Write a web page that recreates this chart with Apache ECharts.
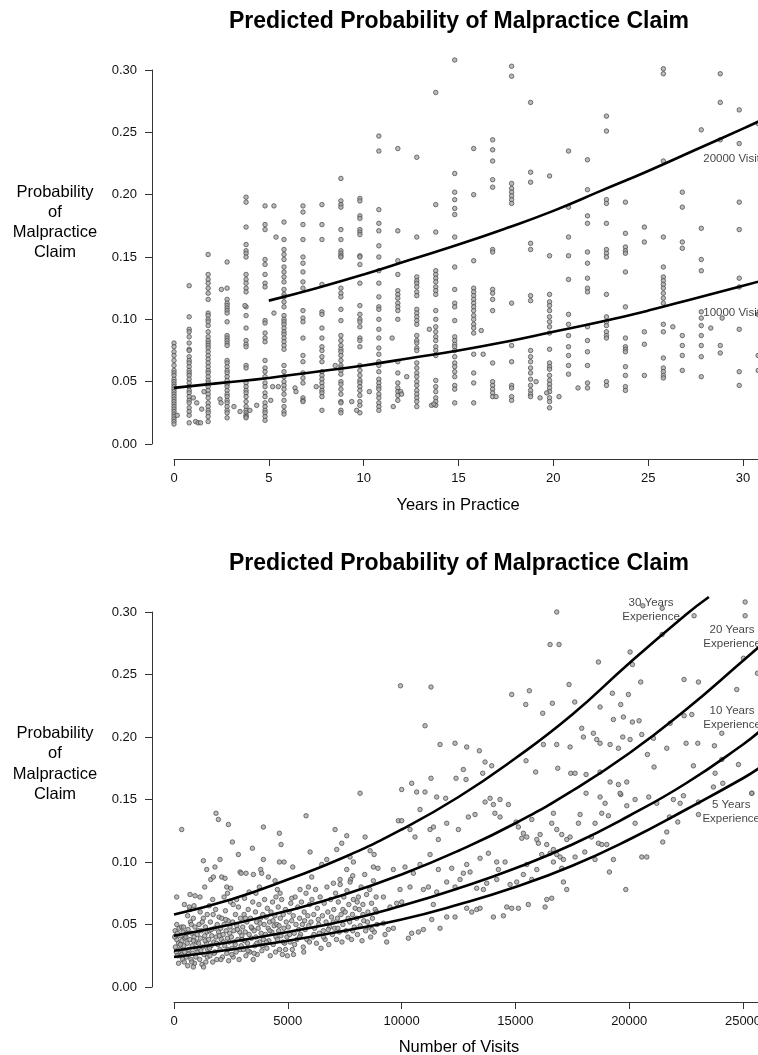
<!DOCTYPE html>
<html>
<head>
<meta charset="utf-8">
<script src="https://cdn.jsdelivr.net/npm/echarts@6/dist/echarts.min.js"></script>
<style>
  html, body { margin: 0; padding: 0; background: #fff; }
  #main { width: 758px; height: 1055px; }
</style>
</head>
<body>
<div id="main"></div>
<script>
var titleText = 'Predicted Probability of Malpractice Claim';
var yTitle = 'Probability\nof\nMalpractice\nClaim';
var yearTicks = [0, 5, 10, 15, 20, 25, 30];
var visitTicks = [0, 5000, 10000, 15000, 20000, 25000];

// --- top chart: years in practice, points sit in columns
var yearCols = [0, 0.8, 1.8, 2.8, 3.8, 4.8, 5.8, 6.8, 7.8, 8.8, 9.8, 10.8, 11.8, 12.8, 13.8, 14.8,
    15.8, 16.8, 17.8, 18.8, 19.8, 20.8, 21.8, 22.8, 23.8, 24.8, 25.8, 26.8, 27.8, 28.8, 29.8, 30.8];
var yearProbs = [
    [.081,.078,.074,.071,.067,.063,.059,.057,.055,.052,.050,.048,.046,.044,.042,.040,.038,.036,.034,.032,.030,.028,.026,.024,.022,.020,.018,.016],
    [.127,.102,.092,.090,.086,.081,.076,.075,.070,.067,.065,.062,.059,.057,.055,.052,.049,.046,.043,.041,.038,.035,.033,.029,.026,.023,.017],
    [.152,.136,.132,.129,.125,.121,.116,.105,.103,.100,.098,.095,.090,.086,.083,.081,.079,.077,.074,.071,.068,.065,.062,.059,.057,.054,.051,.049,.046,.043,.040,.037,.033,.030,.027,.025,.022,.018],
    [.146,.125,.116,.113,.111,.109,.107,.105,.098,.087,.085,.083,.081,.079,.067,.065,.062,.059,.057,.054,.051,.048,.046,.043,.040,.038,.035,.033,.030,.027,.025,.021],
    [.198,.194,.174,.160,.155,.153,.150,.136,.132,.129,.125,.122,.110,.103,.093,.083,.080,.078,.063,.061,.049,.046,.043,.041,.038,.034,.030,.027,.025,.023,.022,.021],
    [.191,.176,.172,.148,.144,.136,.129,.126,.099,.097,.089,.085,.082,.067,.061,.058,.054,.049,.046,.041,.038,.033,.030,.027,.025,.022,.019],
    [.178,.164,.156,.152,.148,.142,.138,.134,.130,.124,.120,.118,.114,.110,.103,.100,.098,.096,.093,.090,.088,.085,.082,.079,.076,.063,.058,.054,.050,.047,.044,.040,.035,.030,.026,.024],
    [.191,.186,.176,.164,.150,.145,.138,.130,.125,.107,.101,.098,.085,.071,.066,.057,.053,.049,.037,.035,.034],
    [.192,.176,.164,.128,.106,.104,.093,.085,.078,.075,.070,.066,.058,.055,.052,.049,.046,.043,.041,.038,.027],
    [.213,.195,.192,.190,.172,.164,.155,.153,.151,.150,.125,.121,.118,.108,.099,.087,.083,.079,.076,.074,.071,.067,.063,.061,.059,.056,.050,.048,.044,.040,.034,.033,.027,.025],
    [.197,.195,.183,.181,.172,.170,.168,.151,.150,.144,.129,.111,.104,.100,.098,.094,.085,.083,.078,.063,.059,.055,.051,.049,.046,.043,.039,.034,.031,.025],
    [.247,.235,.188,.177,.171,.159,.150,.139,.129,.118,.110,.108,.100,.092,.085,.077,.072,.066,.063,.058,.052,.049,.046,.044,.040,.037,.033,.030,.027],
    [.237,.171,.147,.136,.123,.120,.117,.113,.110,.107,.100,.066,.057,.049,.045,.042,.039,.035],
    [.230,.166,.134,.131,.129,.126,.122,.119,.108,.105,.102,.099,.096,.087,.083,.081,.077,.075,.065,.061,.057,.054,.050,.047,.043,.040,.037,.034,.030],
    [.282,.192,.170,.139,.136,.133,.130,.126,.123,.120,.107,.100,.094,.090,.086,.083,.078,.075,.071,.051,.046,.042,.037,.034,.031],
    [.308,.217,.202,.196,.189,.184,.166,.142,.124,.113,.110,.099,.086,.083,.080,.078,.075,.070,.065,.062,.058,.054,.047,.044,.033],
    [.237,.200,.147,.125,.122,.119,.116,.113,.110,.107,.103,.100,.096,.093,.089,.072,.057,.049,.033],
    [.244,.236,.227,.212,.206,.156,.154,.124,.121,.116,.107,.065,.050,.047,.044,.041,.038],
    [.303,.295,.209,.205,.202,.199,.196,.193,.113,.079,.066,.047,.045,.038,.035],
    [.274,.218,.210,.161,.156,.119,.115,.075,.070,.066,.061,.057,.052,.047,.043,.040,.038],
    [.215,.151,.120,.114,.111,.107,.102,.098,.094,.089,.076,.065,.062,.060,.055,.051,.048,.045,.042,.037,.034,.029],
    [.235,.190,.166,.151,.132,.104,.096,.087,.078,.071,.063,.056],
    [.228,.204,.183,.177,.154,.145,.133,.125,.122,.094,.083,.074,.063,.049,.045],
    [.263,.251,.196,.193,.177,.156,.153,.150,.120,.102,.098,.095,.090,.087,.085,.050,.047],
    [.194,.169,.158,.155,.153,.138,.110,.085,.078,.076,.074,.062,.055,.046,.043],
    [.174,.162,.090,.080,.055],
    [.301,.297,.227,.166,.142,.134,.131,.128,.125,.121,.117,.113,.096,.090,.069,.061,.058,.055,.053],
    [.202,.190,.162,.157,.087,.079,.071,.059],
    [.252,.173,.148,.139,.106,.101,.095,.087,.079,.070,.054],
    [.297,.274,.244,.079,.073],
    [.268,.241,.194,.172,.133,.126,.092,.058,.047],
    [.257,.104,.071,.059]
];
var yearExtra = [[0.17,.023],[1.02,.037],[1.2,.033],[1.14,.018],[1.27,.017],[1.4,.017],[1.46,.028],[1.58,.042],
    [2.43,.036],[2.48,.033],[2.5,.124],[3.16,.030],[3.48,.026],[3.74,.111],[4.0,.027],[4.36,.031],[5.1,.035],
    [5.2,.046],[5.5,.046],[5.27,.105],[5.27,.191],[5.38,.166],[6.38,.045],[6.43,.042],[7.5,.046],[8.5,.063],
    [9.37,.034],[9.63,.027],[10.3,.042],[11.5,.085],[11.56,.030],[11.95,.042],[12.0,.040],[12.27,.054],
    [13.46,.092],[13.58,.031],[13.7,.032],[16.2,.091],[16.3,.072],[16.98,.038],[19.09,.050],[19.3,.037],
    [19.65,.041],[20.3,.038],[21.3,.045],[26.3,.094],[28.3,.093],[28.9,.101]];

var years10k = [0, 2.5, 5, 7.5, 10, 12.5, 15, 17.5, 20, 22.5, 25, 27.5, 30, 31];
var prob10k = [.045, .049, .053, .058, .063, .069, .075, .082, .090, .098, .107, .117, .127, .131];
var years20k = [5, 7.5, 10, 12.5, 15, 17.5, 20, 22.5, 25, 27.5, 30, 31];
var prob20k = [.115, .125, .136, .148, .160, .173, .187, .203, .219, .236, .253, .260];

// --- bottom chart: number of visits
var visitPts = [
    [50,.045],[80,.041],[120,.038],[150,.043],[200,.035],[220,.047],[260,.030],[300,.041],[320,.026],[350,.037],
    [380,.022],[400,.044],[430,.033],[450,.020],[470,.028],[480,.039],[120,.050],[60,.032],[30,.040],[250,.025],
    [100,.028],[200,.019],[330,.048],[118,.072],[338,.126],[455,.066],[150,.025],[280,.034],[420,.048],
    [520,.040],[550,.024],[580,.035],[600,.017],[620,.046],[650,.030],[700,.038],[720,.052],[750,.022],[780,.043],
    [800,.033],[820,.027],[850,.055],[880,.040],[900,.019],[920,.048],[950,.031],[980,.036],[600,.057],[700,.062],
    [780,.020],[850,.016],[675,.064],[705,.074],[880,.065],[924,.073],[560,.043],[640,.026],[760,.050],[860,.037],[960,.024],
    [1020,.042],[1050,.028],[1080,.035],[1100,.050],[1130,.022],[1160,.039],[1200,.045],[1230,.018],[1260,.032],
    [1290,.055],[1320,.026],[1350,.041],[1380,.048],[1400,.020],[1430,.035],[1460,.058],[1480,.030],[1150,.060],
    [1300,.016],[1450,.044],[1143,.072],[1290,.101],[1437,.094],[1350,.080],[1070,.045],[1180,.029],[1240,.052],
    [1370,.037],[1470,.024],
    [1520,.038],[1550,.045],[1580,.025],[1600,.052],[1630,.033],[1660,.041],[1700,.020],[1720,.058],[1750,.036],
    [1780,.047],[1800,.028],[1830,.062],[1850,.040],[1880,.022],[1900,.050],[1930,.034],[1960,.044],[1980,.056],
    [1550,.065],[1700,.070],[1613,.086],[1730,.088],[1800,.096],[1846,.139],[1950,.134],[2023,.102],[1560,.031],
    [1640,.046],[1770,.027],[1870,.035],[1990,.041],
    [2020,.030],[2050,.047],[2080,.038],[2100,.055],[2130,.024],[2160,.042],[2200,.050],[2230,.033],[2260,.061],
    [2290,.045],[2320,.027],[2350,.039],[2380,.053],[2400,.021],[2430,.036],[2460,.048],[2480,.068],[2200,.072],
    [2350,.075],[2096,.088],[2242,.087],[2316,.080],[2390,.130],[2490,.079],[2060,.022],[2170,.036],[2270,.054],
    [2370,.030],[2450,.043],
    [2520,.040],[2550,.031],[2580,.052],[2600,.024],[2630,.045],[2660,.036],[2700,.058],[2730,.028],[2760,.049],
    [2800,.038],[2830,.064],[2860,.022],[2890,.044],[2920,.055],[2950,.033],[2980,.041],[2600,.066],[2750,.070],
    [2565,.116],[2828,.106],[2902,.092],[2950,.091],[2540,.026],[2690,.034],[2790,.046],[2910,.030],
    [3020,.048],[3050,.030],[3080,.058],[3100,.037],[3130,.044],[3160,.025],[3200,.052],[3230,.035],[3260,.062],
    [3300,.042],[3330,.028],[3360,.055],[3400,.039],[3430,.047],[3460,.068],[3480,.022],[3100,.071],[3300,.076],
    [3165,.091],[3444,.111],[3488,.090],[3000,.038],[3140,.055],[3250,.029],[3390,.048],
    [3520,.045],[3550,.033],[3580,.060],[3600,.040],[3630,.052],[3660,.026],[3700,.047],[3730,.066],[3760,.036],
    [3800,.055],[3830,.043],[3860,.029],[3900,.058],[3930,.038],[3960,.050],[3980,.070],[3600,.075],[3750,.080],
    [3810,.094],[3854,.091],[3928,.128],[3928,.102],[3520,.027],[3640,.035],[3780,.051],[3880,.033],
    [4020,.042],[4050,.056],[4080,.031],[4100,.063],[4140,.047],[4170,.037],[4200,.052],[4230,.025],[4260,.060],
    [4300,.044],[4330,.068],[4360,.034],[4400,.049],[4430,.057],[4460,.028],[4480,.072],[4147,.088],[4440,.085],
    [4060,.036],[4210,.045],[4350,.053],[4480,.040],
    [4520,.050],[4550,.038],[4580,.064],[4600,.045],[4640,.030],[4670,.055],[4700,.041],[4730,.070],[4760,.026],
    [4800,.058],[4830,.047],[4860,.035],[4900,.062],[4930,.052],[4960,.040],[4980,.025],[4543,.078],[4630,.123],
    [4704,.114],[4630,.100],[4835,.100],[4660,.075],[4620,.049],[4790,.036],[4900,.030],
    [5020,.048],[5060,.060],[5100,.036],[5130,.067],[5170,.053],[5200,.030],[5240,.057],[5280,.043],[5320,.072],
    [5360,.050],[5400,.038],[5440,.064],[5480,.046],[5250,.026],[5173,.071],[5217,.096],[5080,.042],[5300,.034],
    [5520,.055],[5560,.042],[5600,.068],[5640,.050],[5680,.032],[5720,.060],[5760,.046],[5800,.075],[5840,.038],
    [5880,.057],[5920,.049],[5960,.066],[5700,.028],[5539,.078],[5803,.137],[5906,.080],[5979,.108],[5520,.040],
    [5740,.053],[5950,.036],
    [6020,.052],[6060,.070],[6100,.040],[6140,.058],[6180,.047],[6220,.078],[6260,.035],[6300,.063],[6340,.054],
    [6380,.043],[6420,.072],[6460,.031],[6052,.088],[6491,.098],[6150,.042],[6360,.050],
    [6520,.057],[6560,.045],[6600,.067],[6640,.038],[6680,.052],[6720,.080],[6760,.060],[6800,.034],[6840,.048],
    [6880,.070],[6920,.056],[6960,.042],[6711,.102],[6570,.040],[6780,.046],
    [7020,.062],[7060,.047],[7100,.075],[7140,.038],[7180,.055],[7220,.068],[7260,.044],[7300,.082],[7340,.058],
    [7380,.036],[7420,.050],[7460,.072],[7004,.083],[7077,.126],[7150,.110],[7297,.086],[7370,.115],[7000,.052],
    [7200,.047],[7420,.062],
    [7520,.060],[7560,.045],[7600,.077],[7640,.040],[7680,.066],[7720,.052],[7760,.086],[7800,.038],[7840,.058],
    [7880,.070],[7920,.048],[7960,.063],[7590,.121],[7590,.094],[7736,.104],[7736,.084],[7854,.089],[7883,.100],
    [7650,.055],[7850,.045],
    [8020,.055],[8060,.042],[8100,.072],[8140,.062],[8180,.049],[8220,.080],[8260,.037],[8300,.066],[8340,.053],
    [8380,.090],[8420,.045],[8460,.074],[8176,.155],[8396,.120],[8050,.068],[8300,.058],
    [8520,.060],[8560,.048],[8600,.078],[8640,.040],[8680,.067],[8720,.055],[8760,.085],[8800,.044],[8840,.062],
    [8880,.072],[8920,.050],[8960,.095],[8616,.109],[8762,.096],[8792,.106],[8500,.052],[8700,.046],[8900,.060],
    [9200,.051],[9272,.042],[9418,.046],[9638,.047],[9345,.036],[10297,.039],[10443,.043],[10737,.044],[10957,.046],
    [11323,.054],[11689,.047],[11982,.056],[12348,.056],[11396,.066],[12861,.063],[13081,.060],[13300,.062],
    [13447,.063],[14033,.056],[14473,.057],[14619,.064],[14839,.063],[15130,.063],[15570,.066],[16304,.064],
    [16377,.070],[16597,.071],
    [9931,.078],[10370,.080],[10957,.078],[11177,.080],[11543,.076],[11982,.084],[12348,.080],[12568,.086],
    [13008,.092],[12714,.091],[13300,.079],[13594,.078],[13740,.083],[14180,.086],[14253,.094],[14546,.100],
    [14766,.082],[15059,.084],[15350,.090],[15500,.098],[15720,.086],[15940,.094],[16157,.106],[16670,.100],
    [17036,.095],[17110,.084],[17256,.078],[9638,.094],[10150,.096],[10517,.091],[10810,.098],[11250,.106],
    [11615,.094],[12202,.095],[12861,.098],[13447,.103],[13814,.107],[14180,.100],[18500,.102],[17622,.104],
    [9200,.072],[9491,.064],[9784,.067],[10004,.068],
    [9858,.133],[10004,.133],[10810,.142],[10370,.126],[10590,.120],[11250,.126],[11400,.128],[11615,.118],
    [11982,.131],[12495,.126],[12934,.136],[13227,.138],[13887,.151],[13667,.148],[14033,.146],[14100,.139],
    [14326,.150],[14326,.136],[14692,.146],[15029,.132],[15130,.128],[15350,.123],[15280,.119],[15500,.120],
    [15940,.118],[16085,.122],[16010,.115],[16377,.114],[16524,.107],[16670,.110],[16817,.106],[16963,.104],
    [17110,.102],[17256,.118],[17403,.120],[17036,.122],[16817,.126],[16597,.131],[16670,.139],[15720,.134],
    [17842,.138],[17769,.131],[18050,.108],[18342,.120],[18500,.131],[18648,.115],[18794,.114],[19014,.114],
    [19307,.102],[19130,.092],[18794,.139],[18721,.152],[18941,.147],[19087,.137],[19630,.154],[19893,.145],
    [20259,.150],[20259,.131],[20552,.104],[20772,.104],[20860,.152],[21211,.147],[21475,.116],[21650,.124],
    [21768,.136],[21943,.150],[22134,.132],[22237,.147],[22384,.153],[23043,.148],[23043,.138],[25387,.155],
    [19849,.078],[10662,.156],[11029,.156],[11542,.152],[11937,.151],[18105,.155],
    [16816,.300],[16523,.274],[16918,.274],[18647,.260],[20039,.268],[20141,.258],[20507,.244],[21445,.282],
    [22851,.297],[25093,.308],[25093,.297],[25020,.263],[25635,.251],[24726,.238],[22412,.246],[23042,.244],
    [11292,.240],[9950,.241],[14838,.234],[15614,.237],[17357,.242],[16625,.227],[17607,.228],[18720,.224],
    [19262,.235],[19628,.226],[19965,.234],[19745,.216],[20141,.212],[20434,.213],[11029,.209],[11688,.194],
    [12347,.195],[12860,.192],[13417,.189],[13666,.180],[13959,.177],[13563,.171],[12713,.174],[12831,.166],
    [15467,.181],[16230,.194],[16816,.194],[15890,.172],[16860,.175],[17431,.171],[17621,.171],[18105,.170],
    [17914,.207],[18427,.203],[18720,.195],[19160,.194],[19526,.191],[19716,.200],[20039,.198],[20800,.186],
    [21093,.176],[21650,.191],[22500,.195],[23013,.195],[22822,.177],[23774,.171],[24111,.163],[24800,.178],
    [23700,.160],[25385,.155],[19599,.155],[19892,.164],[19526,.162],[19160,.164],[18720,.172],[17402,.192],
    [10003,.158],[10443,.163],[11292,.167],[12391,.167],[20600,.305],[21450,.303],[16200,.219],[19307,.214],
    [21797,.211],[22413,.217],[22750,.218],[24068,.203],[21065,.199],[20552,.202],[23745,.193],[24068,.182],
    [17988,.200],[18574,.198],[15454,.226]
];

var visits5 = [0, 2500, 5000, 7500, 10000, 12500, 15000, 17500, 20000, 22500, 25000, 25700];
var exp5 = [.024, .030, .037, .045, .054, .066, .080, .097, .118, .142, .167, .175];
var exp10 = [.029, .036, .044, .053, .065, .079, .095, .114, .137, .163, .194, .204];
var exp20 = [.041, .050, .061, .074, .090, .109, .131, .157, .187, .222, .261, .272];
var visits30 = [0, 2500, 5000, 7500, 10000, 12500, 15000, 17500, 20000, 22500, 23500];
var exp30 = [.058, .070, .086, .104, .126, .152, .183, .218, .259, .298, .312];

var fontFam = '"Liberation Sans", Arial, sans-serif';

function columnPoints(xs, ys) {
    var out = [];
    xs.forEach(function (x, i) {
        ys[i].forEach(function (y) { out.push([x, y]); });
    });
    return out;
}

function zip(xs, ys) {
    return xs.map(function (x, i) { return [x, ys[i]]; });
}

function xAxisFor(grid, max, ticks) {
    return {
        type: 'value', gridIndex: grid, min: 0, max: max, interval: ticks[1] - ticks[0],
        position: 'bottom', offset: 15,
        axisLine: { show: true, onZero: false, lineStyle: { color: '#333', width: 1 } },
        axisTick: { show: true, length: 7, customValues: ticks, lineStyle: { color: '#333' } },
        axisLabel: {
            customValues: ticks, color: '#111', fontSize: 13, fontFamily: fontFam, margin: 13,
            formatter: function (v) { return String(v); }
        },
        splitLine: { show: false }
    };
}

function yAxisFor(grid) {
    return {
        type: 'value', gridIndex: grid, min: 0, max: 0.3, interval: 0.05,
        position: 'left', offset: 22,
        axisLine: { show: true, onZero: false, lineStyle: { color: '#333', width: 1 } },
        axisTick: { show: true, length: 7, lineStyle: { color: '#333' } },
        axisLabel: {
            color: '#111', fontSize: 13, fontFamily: fontFam, margin: 15,
            formatter: function (v) { return v.toFixed(2); }
        },
        splitLine: { show: false }
    };
}

function dots(grid, data) {
    return {
        type: 'scatter', xAxisIndex: grid, yAxisIndex: grid, data: data, clip: false,
        symbol: 'circle', symbolSize: 4.5, silent: true,
        itemStyle: { color: '#aaa', borderColor: '#444', borderWidth: 0.9 }, z: 2
    };
}

function curve(grid, xs, ys) {
    return {
        type: 'line', xAxisIndex: grid, yAxisIndex: grid, data: zip(xs, ys), clip: false,
        smooth: true, symbol: 'none', silent: true,
        lineStyle: { color: '#000', width: 2.6 }, z: 3
    };
}

function notes(grid, items, pos) {
    return {
        type: 'scatter', xAxisIndex: grid, yAxisIndex: grid, clip: false, symbolSize: 0, silent: true,
        data: items,
        label: {
            show: true, position: pos, distance: 1, formatter: '{b}',
            color: '#111', fontSize: 11.5, fontFamily: fontFam, lineHeight: 14, align: pos === 'inside' ? 'center' : 'left'
        },
        z: 4
    };
}

function text(x, y, str, size, weight, lh) {
    return {
        type: 'text', x: x, y: y, silent: true,
        style: {
            text: str, fontSize: size, fontWeight: weight, fontFamily: fontFam, lineHeight: lh || size,
            fill: '#000', align: 'center', verticalAlign: 'middle'
        }
    };
}

var option = {
    animation: false,
    backgroundColor: '#fff',
    grid: [
        { left: 174, right: 0, top: 70, height: 374, outerBoundsMode: 'none' },
        { left: 174, right: 0, top: 612, height: 375, outerBoundsMode: 'none' }
    ],
    xAxis: [xAxisFor(0, 30.79, yearTicks), xAxisFor(1, 25659, visitTicks)],
    yAxis: [yAxisFor(0), yAxisFor(1)],
    graphic: [
        text(459, 22, titleText, 23, 'bold'),
        text(55, 222, yTitle, 16.5, 'normal', 20),
        text(458, 505, 'Years in Practice', 16.5, 'normal'),
        text(459, 564, titleText, 23, 'bold'),
        text(55, 764, yTitle, 16.5, 'normal', 20.5),
        text(459, 1047, 'Number of Visits', 16.5, 'normal')
    ],
    series: [
        dots(0, columnPoints(yearCols, yearProbs).concat(yearExtra)),
        curve(0, years10k, prob10k),
        curve(0, years20k, prob20k),
        notes(0, [
            { name: '20000 Visits', value: [27.85, 0.229] },
            { name: '10000 Visits', value: [27.85, 0.105] }
        ], 'right'),
        dots(1, visitPts),
        curve(1, visits5, exp5),
        curve(1, visits5, exp10),
        curve(1, visits5, exp20),
        curve(1, visits30, exp30),
        notes(1, [
            { name: '30 Years\nExperience', value: [20960, 0.302] },
            { name: '20 Years\nExperience', value: [24520, 0.280] },
            { name: '10 Years\nExperience', value: [24520, 0.215] },
            { name: '5 Years\nExperience', value: [24480, 0.140] }
        ], 'inside')
    ]
};

var chart = echarts.init(document.getElementById('main'));
chart.setOption(option);
</script>
</body>
</html>
